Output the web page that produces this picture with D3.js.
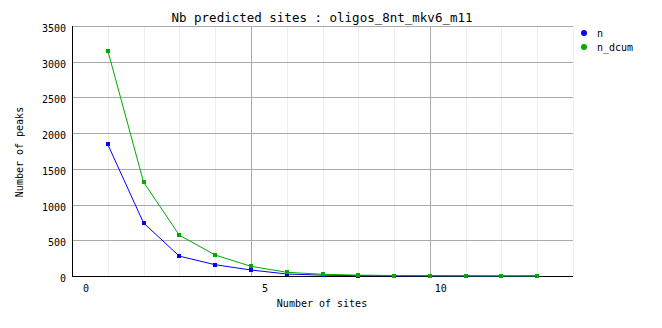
<!DOCTYPE html>
<html>
  <head>
    <script src="https://cdnjs.cloudflare.com/ajax/libs/d3/7.8.5/d3.min.js"></script>
    <style>
      body { margin: 0; background: #fff; }
      text { font-family: "DejaVu Sans Mono", monospace; fill: #000; }
      line.grid { stroke: #aaaaaa; stroke-width: 1; shape-rendering: crispEdges; }
      line.minor { stroke: #eeeeee; stroke-width: 1; shape-rendering: crispEdges; }
      line.axis { stroke: #000; stroke-width: 1; shape-rendering: crispEdges; }
      path.series { fill: none; stroke-width: 1; }
    </style>
  </head>
  <body>
    <svg width="662" height="328"></svg>
    <script>
      // data
      var sites = [1, 2, 3, 4, 5, 6, 7, 8, 9, 10, 11, 12, 13];
      var nValues = [1842, 742, 278, 158, 84, 28, 12, 5, 3, 2, 1, 0, 1];
      var nDcumValues = [3156, 1314, 572, 294, 136, 52, 24, 12, 7, 4, 2, 1, 1];
      var yTicks = [0, 500, 1000, 1500, 2000, 2500, 3000, 3500];
      var xTicks = [0, 5, 10];
      var seriesNames = ["n", "n_dcum"];
      var seriesColors = ["#0000ff", "#00aa00"];

      var svg = d3.select("svg");
      var x = d3.scaleLinear().domain([0, 14]).range([72, 573]);
      var y = d3.scaleLinear().domain([0, 3500]).range([276, 26]);

      // minor vertical grid every site
      svg.selectAll("line.minor")
        .data(d3.range(1, 15).filter(d => d % 5 != 0))
        .enter().append("line")
        .attr("class", "minor")
        .attr("x1", d => Math.round(x(d)) + 0.5).attr("x2", d => Math.round(x(d)) + 0.5)
        .attr("y1", y(3500)).attr("y2", y(0));

      // major vertical grid
      svg.selectAll("line.vgrid")
        .data(xTicks.filter(d => d > 0))
        .enter().append("line")
        .attr("class", "grid vgrid")
        .attr("x1", d => Math.round(x(d)) + 0.5).attr("x2", d => Math.round(x(d)) + 0.5)
        .attr("y1", y(3500)).attr("y2", y(0));

      // horizontal grid
      svg.selectAll("line.hgrid")
        .data(yTicks.filter(d => d > 0))
        .enter().append("line")
        .attr("class", "grid hgrid")
        .attr("x1", x(0)).attr("x2", x(14))
        .attr("y1", d => Math.round(y(d)) + 0.5).attr("y2", d => Math.round(y(d)) + 0.5);

      // axes lines
      svg.append("line").attr("class", "axis")
        .attr("x1", x(0) + 0.5).attr("x2", x(0) + 0.5).attr("y1", y(3500)).attr("y2", y(0) + 1);
      svg.append("line").attr("class", "axis")
        .attr("x1", x(0)).attr("x2", x(14)).attr("y1", y(0) + 0.5).attr("y2", y(0) + 0.5);

      // tick labels
      svg.selectAll("text.ytick")
        .data(yTicks)
        .enter().append("text")
        .attr("class", "ytick")
        .attr("x", 66).attr("y", d => y(d) + 6)
        .attr("text-anchor", "end")
        .style("font-size", "10px")
        .text(d => d);

      svg.selectAll("text.xtick")
        .data(xTicks)
        .enter().append("text")
        .attr("class", "xtick")
        .attr("x", d => x(d) + (d >= 10 ? 11 : 14)).attr("y", 292)
        .attr("text-anchor", "middle")
        .style("font-size", "10px")
        .text(d => d);

      // series
      var allSeries = [nValues, nDcumValues];
      var line = d3.line().x((d, i) => x(sites[i])).y(d => y(d));

      allSeries.forEach((vals, k) => {
        svg.append("path")
          .attr("class", "series")
          .attr("d", line(vals))
          .style("stroke", seriesColors[k]);
        svg.selectAll("rect.m" + k)
          .data(vals)
          .enter().append("rect")
          .attr("class", "m" + k)
          .attr("x", (d, i) => Math.round(x(sites[i])) - 2)
          .attr("y", d => Math.round(y(d)) - 2)
          .attr("width", 4).attr("height", 4)
          .style("fill", seriesColors[k]);
      });

      // title and axis titles
      svg.append("text")
        .attr("x", 322).attr("y", 22)
        .attr("text-anchor", "middle")
        .style("font-size", "12.5px")
        .text("Nb predicted sites : oligos_8nt_mkv6_m11");

      svg.append("text")
        .attr("x", 322).attr("y", 307)
        .attr("text-anchor", "middle")
        .style("font-size", "10px")
        .text("Number of sites");

      svg.append("text")
        .attr("transform", "translate(23,152) rotate(-90)")
        .attr("text-anchor", "middle")
        .style("font-size", "10px")
        .text("Number of peaks");

      // legend
      var legend = svg.selectAll("g.legend")
        .data(seriesNames)
        .enter().append("g")
        .attr("class", "legend")
        .attr("transform", (d, i) => "translate(584," + (33 + i * 14) + ")");
      legend.append("circle")
        .attr("r", 3)
        .style("fill", (d, i) => seriesColors[i]);
      legend.append("text")
        .attr("x", 13).attr("y", 4)
        .style("font-size", "10px")
        .text(d => d);
    </script>
  </body>
</html>
